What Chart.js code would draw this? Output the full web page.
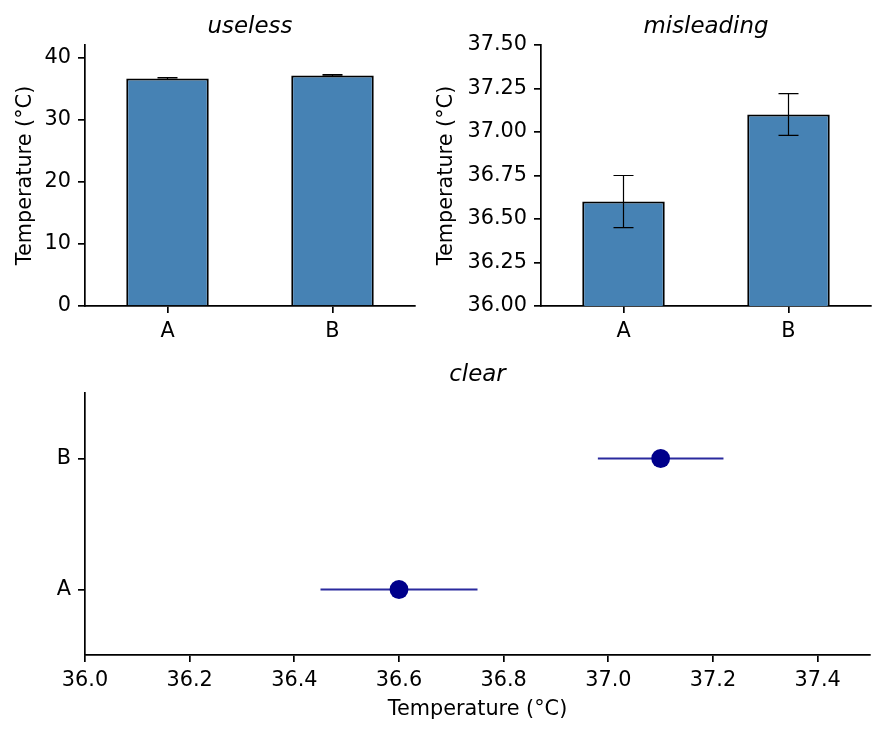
<!DOCTYPE html>
<html>
<head>
<meta charset="utf-8">
<script src="https://cdn.jsdelivr.net/npm/chart.js@4.4.1/dist/chart.umd.min.js"></script>
<style>
  html, body { margin: 0; padding: 0; background: #fff; }
  #wrap { position: relative; width: 885px; height: 735px; }
  canvas { position: absolute; }
</style>
</head>
<body>
<div id="wrap">
  <canvas id="useless" width="430" height="350" style="left:0;top:0"></canvas>
  <canvas id="misleading" width="455" height="350" style="left:430px;top:0"></canvas>
  <canvas id="clear" width="885" height="385" style="left:0;top:350px"></canvas>
</div>
<script>
// data
const categories = ['A', 'B'];
const means = [36.6, 37.1];
const errLow = [36.45, 36.98];
const errHigh = [36.75, 37.22];
const uselessTicks = [0, 10, 20, 30, 40];
const misleadingTicks = [36.0, 36.25, 36.5, 36.75, 37.0, 37.25, 37.5];
const clearTicks = [36.0, 36.2, 36.4, 36.6, 36.8, 37.0, 37.2, 37.4];

const ink = '#000';
const family = 'DejaVu Sans';
const tickFont = { family: family, size: 20.8 };
const titleFont = { family: family, size: 22.9, style: 'italic', weight: 'normal' };
const yLabel = 'Temperature (°C)';

function paintErrors(chart) {
  const o = chart.options.plugins.errorBars;
  const ctx = chart.ctx;
  const xs = chart.scales.x, ys = chart.scales.y;
  ctx.save();
  ctx.strokeStyle = o.color;
  ctx.lineWidth = o.width;
  categories.forEach(function (c, i) {
    ctx.beginPath();
    if (o.horizontal) {
      const y = ys.getPixelForValue(i);
      ctx.moveTo(xs.getPixelForValue(errLow[i]), y);
      ctx.lineTo(xs.getPixelForValue(errHigh[i]), y);
    } else {
      const x = xs.getPixelForValue(i);
      const y1 = ys.getPixelForValue(errLow[i]);
      const y2 = ys.getPixelForValue(errHigh[i]);
      ctx.moveTo(x, y1); ctx.lineTo(x, y2);
      ctx.moveTo(x - o.cap, y1); ctx.lineTo(x + o.cap, y1);
      ctx.moveTo(x - o.cap, y2); ctx.lineTo(x + o.cap, y2);
    }
    ctx.stroke();
  });
  ctx.restore();
}

const errorBars = {
  id: 'errorBars',
  beforeDatasetsDraw(chart) { if (chart.options.plugins.errorBars.behind) paintErrors(chart); },
  afterDatasetsDraw(chart) { if (!chart.options.plugins.errorBars.behind) paintErrors(chart); }
};

function gridStyle() {
  return { display: true, drawOnChartArea: false, drawTicks: true, tickLength: 7,
           color: ink, lineWidth: 1.7, offset: false };
}
function borderStyle() {
  return { display: true, color: ink, width: 1.7 };
}
function titleOpts(text, top, bottom) {
  return { display: true, text: text, font: titleFont, color: ink, fullSize: false,
           padding: { top: top, bottom: bottom } };
}

function barChart(id, yMin, yMax, ticks, fmt, yWidth, labelPad, rightPad) {
  return new Chart(document.getElementById(id), {
    type: 'bar',
    data: {
      labels: categories,
      datasets: [{
        data: means,
        backgroundColor: '#4682b4',
        borderColor: ink,
        borderWidth: 2,
        borderSkipped: 'start',
        barPercentage: 0.5,
        categoryPercentage: 1.0
      }]
    },
    options: {
      responsive: false,
      animation: false,
      events: [],
      layout: { padding: { left: 0, right: rightPad, top: 0, bottom: 0 } },
      plugins: {
        legend: { display: false },
        tooltip: { enabled: false },
        title: titleOpts(id, 13, 4.5),
        errorBars: { color: ink, width: 1.2, cap: 10, behind: false }
      },
      scales: {
        x: {
          type: 'category',
          offset: true,
          grid: gridStyle(),
          border: borderStyle(),
          ticks: { font: tickFont, color: ink, padding: 6, maxRotation: 0 },
          afterFit(s) { s.height = 44; }
        },
        y: {
          type: 'linear',
          min: yMin,
          max: yMax,
          grid: gridStyle(),
          border: borderStyle(),
          afterBuildTicks(s) { s.ticks = ticks.map(function (v) { return { value: v }; }); },
          ticks: { font: tickFont, color: ink, padding: 7, callback: fmt },
          title: { display: true, text: yLabel, font: tickFont, color: ink,
                   padding: { top: labelPad, bottom: 0 } },
          afterFit(s) { s.width = yWidth; }
        }
      }
    },
    plugins: [errorBars]
  });
}

barChart('useless', 0, 42, uselessTicks, function (v) { return String(v); }, 85, 13.5, 15);
barChart('misleading', 36, 37.5, misleadingTicks, function (v) { return v.toFixed(2); }, 111, 4, 14);

new Chart(document.getElementById('clear'), {
  type: 'scatter',
  data: {
    datasets: [{
      data: means.map(function (m, i) { return { x: m, y: i }; }),
      backgroundColor: '#00008b',
      borderWidth: 0,
      pointRadius: 9.4,
      pointHoverRadius: 9.4
    }]
  },
  options: {
    responsive: false,
    animation: false,
    events: [],
    layout: { padding: { left: 0, right: 15, top: 0, bottom: 0 } },
    plugins: {
      legend: { display: false },
      tooltip: { enabled: false },
      title: titleOpts('clear', 11, 4.5),
      errorBars: { color: '#2a2a9e', width: 2.2, cap: 0, horizontal: true, behind: true }
    },
    scales: {
      x: {
        type: 'linear',
        min: 36,
        max: 37.5,
        grid: gridStyle(),
        border: borderStyle(),
        afterBuildTicks(s) { s.ticks = clearTicks.map(function (v) { return { value: v }; }); },
        ticks: { font: tickFont, color: ink, padding: 6, maxRotation: 0,
                 callback: function (v) { return v.toFixed(1); } },
        title: { display: true, text: yLabel, font: tickFont, color: ink,
                 padding: { top: 0, bottom: 13 } },
        afterFit(s) { s.height = 80; }
      },
      y: {
        type: 'linear',
        min: -0.5,
        max: 1.5,
        grid: gridStyle(),
        border: borderStyle(),
        afterBuildTicks(s) { s.ticks = [0, 1].map(function (v) { return { value: v }; }); },
        ticks: { font: tickFont, color: ink, padding: 7,
                 callback: function (v) { return categories[v]; } },
        afterFit(s) { s.width = 85; }
      }
    }
  },
  plugins: [errorBars]
});
</script>
</body>
</html>
